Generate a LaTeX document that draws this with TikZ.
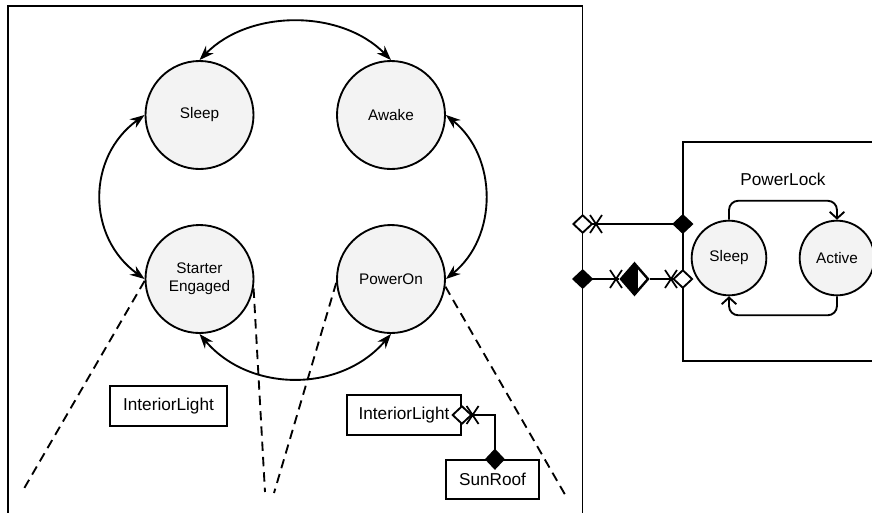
\documentclass[tikz,border=0pt]{standalone}
\usepackage{fontspec}
\setmainfont{Liberation Sans}
\usetikzlibrary{arrows.meta,shapes.geometric}
\definecolor{statefill}{HTML}{F3F3F3}

\tikzset{
  nonav/.pic={\draw[line width=1.3pt] (-6,-9) -- (6,9) (-6,9) -- (6,-9);},
  shared/.tip={Diamond[length=16pt,width=15pt,fill=white]},
  owned/.tip={Diamond[length=16pt,width=15pt]}
}

\begin{document}
\begin{tikzpicture}[x=0.75pt,y=-0.75pt,line width=1.4pt,
  state/.style={circle, draw, fill=statefill, inner sep=0pt, minimum size=81pt,
    align=center, font=\fontsize{11.5}{13.5}\selectfont},
  substate/.style={state, minimum size=56pt},
  part/.style={rectangle, draw, inner sep=0pt, minimum height=30pt,
    font=\fontsize{12.9}{15}\selectfont},
  trans/.style={{Stealth[length=11pt,width=8pt]}-{Stealth[length=11pt,width=8pt]}},
  subtrans/.style={-{Straight Barb[length=5pt,width=11pt]}, rounded corners=7pt},
  link/.style={dash pattern=on 7pt off 4.5pt},
  halfagg/.style={diamond, draw, line width=1.8pt, inner sep=0pt, minimum width=21pt,
    minimum height=24pt,
    path picture={\fill (path picture bounding box.north west)
      rectangle ([xshift=2.5pt]path picture bounding box.south);}}]
\clip (0,0) rectangle (872,512);

% containers
\draw (8,6) rectangle (582.5,530);
\draw (683,142) rectangle (890,361);

% states of the car
\node [state] (st_sleep) at (199.5,115) {Sleep};
\node [state] (st_awake) at (391,115) {Awake};
\node [state] (st_starter) at (199.5,279) {Starter\\Engaged};
\node [state] (st_poweron) at (391,279) {PowerOn};

\draw [trans] (st_sleep.north) .. controls +(50,-51) and +(-50,-51) .. (st_awake.north);
\draw [trans] (st_sleep.west) .. controls +(-58,42) and +(-58,-42) .. (st_starter.west);
\draw [trans] (st_awake.east) .. controls +(52,42) and +(52,-42) .. (st_poweron.east);
\draw [trans] (st_starter.south) .. controls +(50,59) and +(-50,59) .. (st_poweron.south);

% parts
\node [part, minimum width=87.75pt] (il_left) at (168.5,406) {InteriorLight};
\node [part, minimum width=85.5pt] (il_right) at (404,415) {InteriorLight};
\node [part, minimum width=70pt, minimum height=29pt] (sunroof) at (492.5,479.5) {SunRoof};

\draw [{shared}-{owned}] ([xshift=-8pt]il_right.east)
  -| ([xshift=1.8pt,yshift=-8pt]sunroof.north);
\pic at ([xshift=8pt]il_right.east) {nonav};

% dashed links
\coordinate (d_1) at (22,492);
\coordinate (d_2) at (265,492);
\coordinate (d_3) at (274,493);
\coordinate (d_4) at (567,498);
\draw [link] (st_starter.182) -- (d_1);
\draw [link] (st_starter.-10) -- (d_2);
\draw [link] (st_poweron.184) -- (d_3);
\draw [link] (st_poweron.-8) -- (d_4);

% power lock
\node [font=\fontsize{12.9}{15}\selectfont] (pl_label) at (783,179) {PowerLock};
\node [substate] (pl_sleep) at (729,258) {Sleep};
\node [substate] (pl_active) at (837,258) {Active};
\draw [subtrans] (pl_sleep.north) -- ++(0,-19) -| (pl_active.north);
\draw [subtrans] (pl_active.south) -- ++(0,19) -| (pl_sleep.south);

% connections between the containers
\coordinate (c1_from) at (572,224);
\coordinate (c1_to) at (693.5,224);
\draw [{shared}-{owned}] (c1_from) -- (c1_to);
\pic at (596,224) {nonav};

\coordinate (c2_from) at (572,279);
\node [halfagg] (agg) at (634.5,279) {};
\coordinate (c2_to) at (693.5,279);
\draw [{owned}-] (c2_from) -- (agg.west);
\draw [-{shared}] (agg.east) -- (c2_to);
\pic at (616,279) {nonav};
\pic at (671,279) {nonav};
\end{tikzpicture}
\end{document}
